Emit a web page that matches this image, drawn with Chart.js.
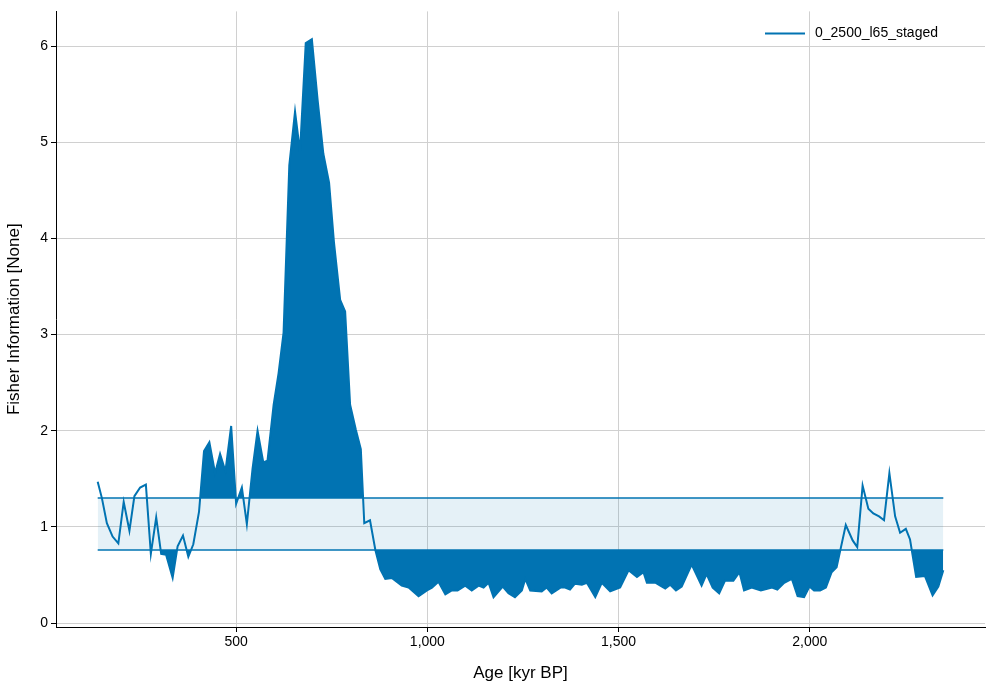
<!DOCTYPE html>
<html>
<head>
<meta charset="utf-8">
<script src="https://cdn.jsdelivr.net/npm/chart.js@4"></script>
<style>
  body { margin: 0; background: #fff; }
  #wrap { width: 995px; height: 688px; }
</style>
</head>
<body>
<div id="wrap"><canvas id="fiChart"></canvas></div>
<script>
// Age (kyr BP) and Fisher Information
const ages = [138, 149, 162, 177, 192, 206, 221, 234, 249, 264, 277, 291, 304, 317, 334, 347, 361, 375, 388, 403,
  416, 430, 445, 458, 472, 487, 500, 515, 528, 543, 556, 571, 582, 598, 611, 624, 639, 654, 667, 682,
  698, 713, 728, 743, 756, 772, 785, 798, 813, 826, 835, 850, 864, 877, 890, 907, 933, 951, 977, 999,
  1012, 1029, 1047, 1064, 1079, 1099, 1116, 1134, 1147, 1160, 1173, 1197, 1212, 1229, 1247, 1256, 1269, 1299, 1312, 1325,
  1348, 1360, 1373, 1386, 1404, 1417, 1439, 1456, 1478, 1504, 1526, 1548, 1565, 1574, 1596, 1609, 1622, 1635, 1650, 1665,
  1691, 1717, 1730, 1746, 1763, 1778, 1800, 1816, 1828, 1848, 1872, 1901, 1915, 1933, 1953, 1968, 1985, 1999, 2011, 2027,
  2042, 2057, 2070, 2094, 2112, 2124, 2138, 2153, 2166, 2181, 2194, 2208, 2223, 2236, 2251, 2262, 2278, 2301, 2321, 2336, 2349];
const fisher = [1.47, 1.30, 1.04, 0.90, 0.83, 1.26, 0.96, 1.32, 1.41, 1.44, 0.72, 1.10, 0.72, 0.71, 0.47, 0.80, 0.91, 0.69, 0.82, 1.16,
  1.79, 1.88, 1.56, 1.76, 1.58, 2.05, 1.24, 1.41, 1.03, 1.61, 2.00, 1.67, 1.69, 2.27, 2.60, 3.02, 4.76, 5.32, 4.90, 6.03,
  6.07, 5.44, 4.88, 4.58, 3.95, 3.36, 3.24, 2.27, 2.01, 1.81, 1.04, 1.07, 0.76, 0.56, 0.46, 0.47, 0.39, 0.37, 0.28, 0.34,
  0.37, 0.43, 0.30, 0.34, 0.34, 0.39, 0.34, 0.39, 0.37, 0.42, 0.27, 0.38, 0.31, 0.27, 0.34, 0.46, 0.34, 0.33, 0.37, 0.31,
  0.37, 0.37, 0.35, 0.41, 0.40, 0.42, 0.27, 0.42, 0.33, 0.37, 0.55, 0.48, 0.53, 0.42, 0.42, 0.39, 0.36, 0.40, 0.34, 0.38,
  0.61, 0.39, 0.51, 0.37, 0.31, 0.44, 0.44, 0.53, 0.34, 0.37, 0.34, 0.37, 0.35, 0.42, 0.46, 0.28, 0.27, 0.38, 0.34, 0.34,
  0.37, 0.53, 0.58, 1.02, 0.86, 0.79, 1.43, 1.19, 1.14, 1.11, 1.07, 1.56, 1.11, 0.94, 0.98, 0.87, 0.48, 0.49, 0.29, 0.38, 0.55];
// regime band limits and the stretch where the upper exceedance is shaded
const bandLow = 0.76;
const bandHigh = 1.3;
const shadeUpperFrom = 400;
const shadeUpperTo = 840;
const xTicks = [500, 1000, 1500, 2000];
const yTicks = [0, 1, 2, 3, 4, 5, 6];

const blue = '#0173b2';
const fontFamily = '"Liberation Sans", Arial, sans-serif';

const points = ages.map((a, i) => ({ x: a, y: fisher[i] }));
const upperPart = points.filter(p => p.x >= shadeUpperFrom && p.x <= shadeUpperTo);
const xStart = ages[0], xEnd = ages[ages.length - 1];

// legend drawn inside the plot area, top right
const innerLegend = {
  id: 'innerLegend',
  afterDraw(chart) {
    const ctx = chart.ctx;
    const ds = chart.data.datasets[0];
    const right = chart.chartArea.right;
    const y = chart.chartArea.top + 22;
    ctx.save();
    ctx.strokeStyle = ds.borderColor;
    ctx.lineWidth = 2;
    ctx.beginPath();
    ctx.moveTo(right - 220, y);
    ctx.lineTo(right - 180, y);
    ctx.stroke();
    ctx.fillStyle = '#000';
    ctx.font = '14px ' + fontFamily;
    ctx.textBaseline = 'middle';
    ctx.fillText(ds.label, right - 170, y);
    ctx.restore();
  }
};

const keepTicks = list => scale => {
  scale.ticks = list.map(v => ({ value: v }));
};

new Chart(document.getElementById('fiChart'), {
  type: 'line',
  data: {
    datasets: [
      {
        label: '0_2500_l65_staged',
        data: points,
        borderColor: blue,
        borderWidth: 2,
        pointRadius: 0,
        tension: 0,
        fill: { target: { value: bandLow }, above: 'rgba(0,0,0,0)', below: blue },
        order: 0
      },
      {
        label: 'upper',
        data: upperPart,
        borderWidth: 0,
        borderColor: 'rgba(0,0,0,0)',
        pointRadius: 0,
        fill: { target: { value: bandHigh }, above: blue, below: 'rgba(0,0,0,0)' },
        order: 1
      },
      {
        label: 'bandHigh',
        data: [{ x: xStart, y: bandHigh }, { x: xEnd, y: bandHigh }],
        borderColor: blue,
        borderWidth: 1.5,
        pointRadius: 0,
        fill: false,
        order: 2
      },
      {
        label: 'bandLow',
        data: [{ x: xStart, y: bandLow }, { x: xEnd, y: bandLow }],
        borderColor: blue,
        borderWidth: 1.5,
        pointRadius: 0,
        fill: { target: '-1', above: 'rgba(1,115,178,0.1)', below: 'rgba(1,115,178,0.1)' },
        order: 3
      }
    ]
  },
  options: {
    responsive: true,
    maintainAspectRatio: false,
    animation: false,
    layout: { padding: { top: 10, right: 10, left: 0, bottom: 0 } },
    plugins: {
      legend: { display: false },
      tooltip: { enabled: false }
    },
    scales: {
      x: {
        type: 'linear',
        min: 29,
        max: 2458,
        afterBuildTicks: keepTicks(xTicks),
        afterFit(scale) { scale.height = 61; },
        border: { display: true, color: '#000', width: 1 },
        grid: { color: '#d0d0d0', lineWidth: 1, tickColor: '#000', tickLength: 5, drawOnChartArea: true },
        ticks: { color: '#000', font: { size: 14, family: fontFamily }, padding: 2, maxRotation: 0 },
        title: { display: true, text: 'Age [kyr BP]', color: '#000', font: { size: 17, family: fontFamily }, padding: { top: 0 } }
      },
      y: {
        min: -0.04,
        max: 6.36,
        afterBuildTicks: keepTicks(yTicks),
        afterFit(scale) { scale.width = 56; },
        border: { display: true, color: '#000', width: 1 },
        grid: { color: '#d0d0d0', lineWidth: 1, tickColor: '#000', tickLength: 5 },
        ticks: { color: '#000', font: { size: 14, family: fontFamily }, padding: 3 },
        title: { display: true, text: 'Fisher Information [None]', color: '#000', font: { size: 17, family: fontFamily }, padding: { bottom: 2 } }
      }
    }
  },
  plugins: [innerLegend, {
    // dashed grid lines
    id: 'dashGrid',
    beforeDraw(chart) {
      Object.values(chart.scales).forEach(s => { s.options.grid.borderDash = [5, 4]; });
    }
  }]
});
</script>
</body>
</html>
